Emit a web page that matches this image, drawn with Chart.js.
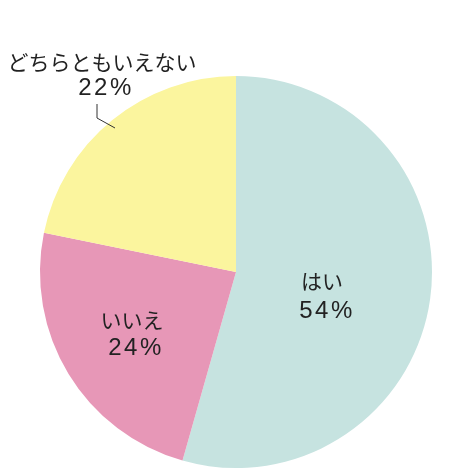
<!DOCTYPE html>
<html><head><meta charset="utf-8">
<script src="https://cdn.jsdelivr.net/npm/chart.js@4/dist/chart.umd.min.js"></script>
<style>html,body{margin:0;padding:0;background:#fff}#wrap{width:460px;height:474px}</style>
</head><body><div id="wrap"><canvas id="c" width="460" height="474"></canvas></div>
<script>
const categories = ["はい", "いいえ", "どちらともいえない"];
const values = [54.4, 23.8, 21.8];
const colors = ["#c6e3e0", "#e797b7", "#fbf59e"];

// label offsets from pie centre (pixels): [name, value]
const labelOffsets = [
  [[86, 9], [91, 39]],
  [[-104, 48], [-100, 76]],
  [[-134, -210], [-130, -184]]
];

const labelPlugin = {
  id: 'labels',
  afterDatasetsDraw(chart) {
    const ctx = chart.ctx;
    const arc = chart.getDatasetMeta(0).data[0];
    const cx = arc.x, cy = arc.y;
    ctx.save();
    ctx.fillStyle = '#222';
    ctx.textAlign = 'center';
    ctx.textBaseline = 'middle';
    categories.forEach((c, i) => {
      const o = labelOffsets[i];
      ctx.font = '21px "Noto Sans CJK JP", "Noto Sans", sans-serif';
      ctx.letterSpacing = '0px';
      ctx.fillText(c, cx + o[0][0], cy + o[0][1]);
      ctx.font = '24px "Liberation Sans", Arial, sans-serif';
      ctx.letterSpacing = '2.5px';
      ctx.fillText(Math.round(values[i]) + '%', cx + o[1][0], cy + o[1][1]);
    });
    ctx.letterSpacing = '0px';
    // leader line for the small slice label
    ctx.strokeStyle = '#333';
    ctx.lineWidth = 1;
    ctx.beginPath();
    ctx.moveTo(cx - 139, cy - 168);
    ctx.lineTo(cx - 139, cy - 154);
    ctx.lineTo(cx - 121, cy - 144);
    ctx.stroke();
    ctx.restore();
  }
};

new Chart(document.getElementById('c'), {
  type: 'pie',
  data: {
    labels: categories,
    datasets: [{ data: values, backgroundColor: colors, borderWidth: 0 }]
  },
  options: {
    responsive: false,
    animation: false,
    layout: { padding: { left: 40, right: 28, top: 76, bottom: 6 } },
    plugins: { legend: { display: false }, tooltip: { enabled: false } }
  },
  plugins: [labelPlugin]
});
</script></body></html>
